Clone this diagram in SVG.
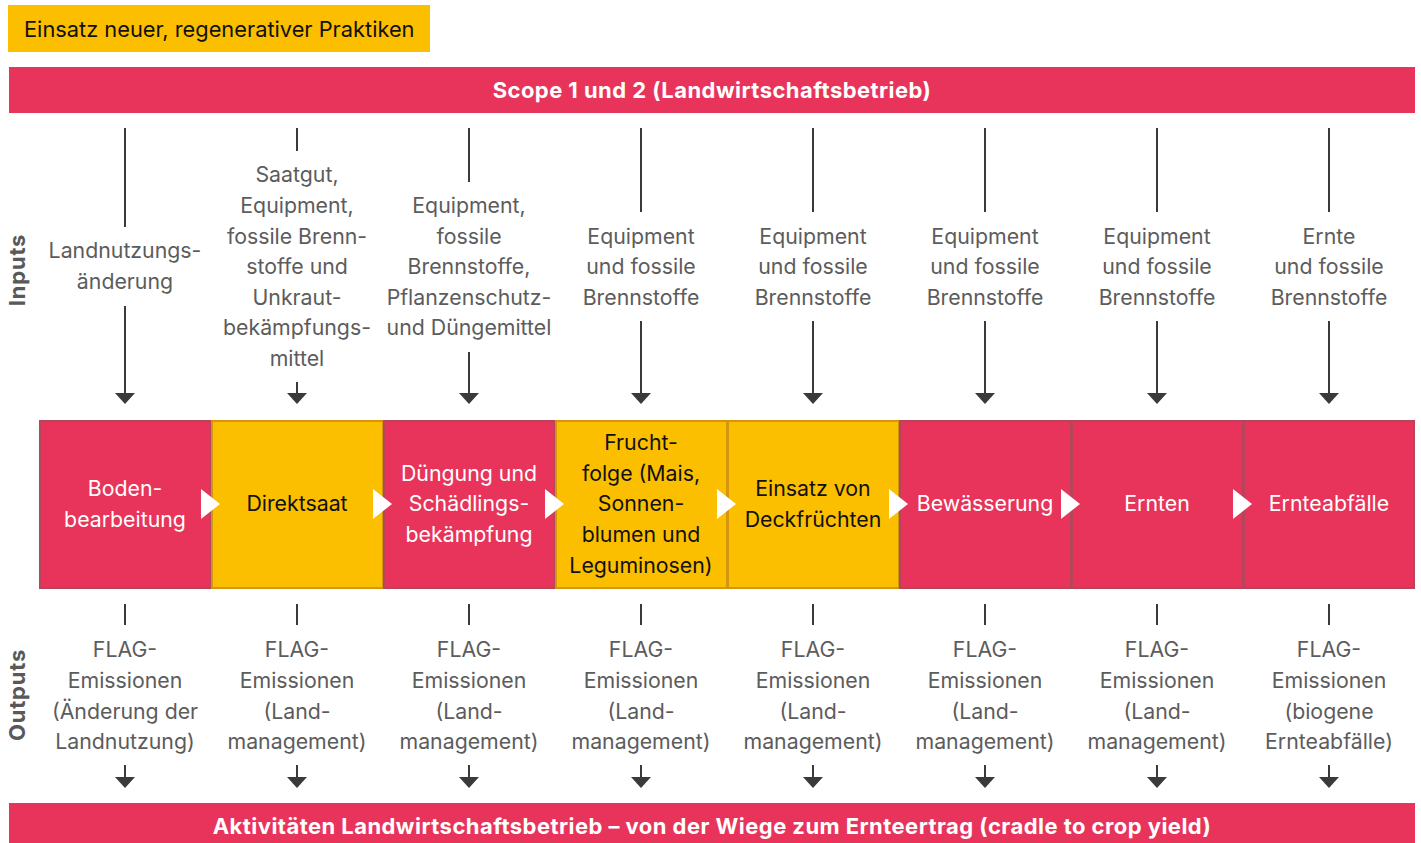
<svg xmlns="http://www.w3.org/2000/svg" width="1421" height="843" viewBox="0 0 1421 843">
<style>
.bg{fill:#ffffff}
.red{fill:#E8345A}
.yel{fill:#FBBF00}
.bred{fill:#E8345A;stroke:#B5455A;stroke-width:2}
.byel{fill:#FBBF00;stroke:#D4950F;stroke-width:2}
.t{font-family:Inter,"Liberation Sans",Arial,sans-serif;font-size:21.3px;text-anchor:middle}
.g{fill:#5c5c5c}
.w{fill:#ffffff}
.k{fill:#111111}
.hb{font-family:Inter,"Liberation Sans",Arial,sans-serif;font-size:22px;font-weight:bold;fill:#ffffff;text-anchor:middle;letter-spacing:0.45px}
.side{font-family:Inter,"Liberation Sans",Arial,sans-serif;font-size:22px;font-weight:bold;fill:#595959;text-anchor:middle;letter-spacing:0.8px}
.ln{stroke:#3a3a3a;stroke-width:2;fill:none}
.arr{stroke:#3a3a3a;stroke-width:2;fill:none;marker-end:url(#ah)}
.tri{fill:#ffffff}
</style>
<defs>
<marker id="ah" markerUnits="userSpaceOnUse" markerWidth="12" markerHeight="22" viewBox="0 0 12 22" refX="0" refY="11" orient="auto">
<path d="M0,1 L11,11 L0,21 Z" fill="#3a3a3a"/>
</marker>
</defs>
<rect class="bg" x="0" y="0" width="1421" height="843"/>

<g id="title-regen">
<rect class="yel" x="8" y="5" width="422" height="47"/>
<text x="24" y="36.5" style="font-family:Inter,'Liberation Sans',Arial,sans-serif;font-size:21.8px;fill:#111">Einsatz neuer, regenerativer Praktiken</text>
</g>

<g id="scope-header">
<rect class="red" x="9" y="67" width="1406" height="46"/>
<text class="hb" x="712" y="98">Scope 1 und 2 (Landwirtschaftsbetrieb)</text>
</g>

<g id="label-inputs"><text class="side" transform="translate(25,270) rotate(-90)">Inputs</text></g>
<g id="label-outputs"><text class="side" transform="translate(25,695) rotate(-90)">Outputs</text></g>

<g id="input-texts">
<text class="t g" x="125" y="258">Landnutzungs-</text>
<text class="t g" x="125" y="289">änderung</text>
<text class="t g" x="297" y="182">Saatgut,</text>
<text class="t g" x="297" y="213">Equipment,</text>
<text class="t g" x="297" y="244">fossile Brenn-</text>
<text class="t g" x="297" y="274">stoffe und</text>
<text class="t g" x="297" y="305">Unkraut-</text>
<text class="t g" x="297" y="335">bekämpfungs-</text>
<text class="t g" x="297" y="366">mittel</text>
<text class="t g" x="469" y="213">Equipment,</text>
<text class="t g" x="469" y="244">fossile</text>
<text class="t g" x="469" y="274">Brennstoffe,</text>
<text class="t g" x="469" y="305">Pflanzenschutz-</text>
<text class="t g" x="469" y="335">und Düngemittel</text>
<text class="t g" x="641" y="244">Equipment</text>
<text class="t g" x="641" y="274">und fossile</text>
<text class="t g" x="641" y="305">Brennstoffe</text>
<text class="t g" x="813" y="244">Equipment</text>
<text class="t g" x="813" y="274">und fossile</text>
<text class="t g" x="813" y="305">Brennstoffe</text>
<text class="t g" x="985" y="244">Equipment</text>
<text class="t g" x="985" y="274">und fossile</text>
<text class="t g" x="985" y="305">Brennstoffe</text>
<text class="t g" x="1157" y="244">Equipment</text>
<text class="t g" x="1157" y="274">und fossile</text>
<text class="t g" x="1157" y="305">Brennstoffe</text>
<text class="t g" x="1329" y="244">Ernte</text>
<text class="t g" x="1329" y="274">und fossile</text>
<text class="t g" x="1329" y="305">Brennstoffe</text>
</g>

<g id="node-bodenbearbeitung">
<rect class="bred" x="40" y="421" width="171" height="167"/>
<text class="t w" x="125" y="496">Boden-</text>
<text class="t w" x="125" y="527">bearbeitung</text>
</g>
<g id="node-direktsaat">
<rect class="byel" x="212" y="421" width="171" height="167"/>
<text class="t k" x="297" y="511">Direktsaat</text>
</g>
<g id="node-duengung">
<rect class="bred" x="384" y="421" width="171" height="167"/>
<text class="t w" x="469" y="481">Düngung und</text>
<text class="t w" x="469" y="511">Schädlings-</text>
<text class="t w" x="469" y="542">bekämpfung</text>
</g>
<g id="node-fruchtfolge">
<rect class="byel" x="556" y="421" width="171" height="167"/>
<text class="t k" x="641" y="450">Frucht-</text>
<text class="t k" x="641" y="481">folge (Mais,</text>
<text class="t k" x="641" y="511">Sonnen-</text>
<text class="t k" x="641" y="542">blumen und</text>
<text class="t k" x="641" y="573">Leguminosen)</text>
</g>
<g id="node-deckfruechte">
<rect class="byel" x="728" y="421" width="171" height="167"/>
<text class="t k" x="813" y="496">Einsatz von</text>
<text class="t k" x="813" y="527">Deckfrüchten</text>
</g>
<g id="node-bewaesserung">
<rect class="bred" x="900" y="421" width="171" height="167"/>
<text class="t w" x="985" y="511">Bewässerung</text>
</g>
<g id="node-ernten">
<rect class="bred" x="1072" y="421" width="171" height="167"/>
<text class="t w" x="1157" y="511">Ernten</text>
</g>
<g id="node-ernteabfaelle">
<rect class="bred" x="1244" y="421" width="170" height="167"/>
<text class="t w" x="1329" y="511">Ernteabfälle</text>
</g>

<g id="output-texts">
<text class="t g" x="125" y="657">FLAG-</text>
<text class="t g" x="125" y="688">Emissionen</text>
<text class="t g" x="125" y="719">(Änderung der</text>
<text class="t g" x="125" y="749">Landnutzung)</text>
<text class="t g" x="297" y="657">FLAG-</text>
<text class="t g" x="297" y="688">Emissionen</text>
<text class="t g" x="297" y="719">(Land-</text>
<text class="t g" x="297" y="749">management)</text>
<text class="t g" x="469" y="657">FLAG-</text>
<text class="t g" x="469" y="688">Emissionen</text>
<text class="t g" x="469" y="719">(Land-</text>
<text class="t g" x="469" y="749">management)</text>
<text class="t g" x="641" y="657">FLAG-</text>
<text class="t g" x="641" y="688">Emissionen</text>
<text class="t g" x="641" y="719">(Land-</text>
<text class="t g" x="641" y="749">management)</text>
<text class="t g" x="813" y="657">FLAG-</text>
<text class="t g" x="813" y="688">Emissionen</text>
<text class="t g" x="813" y="719">(Land-</text>
<text class="t g" x="813" y="749">management)</text>
<text class="t g" x="985" y="657">FLAG-</text>
<text class="t g" x="985" y="688">Emissionen</text>
<text class="t g" x="985" y="719">(Land-</text>
<text class="t g" x="985" y="749">management)</text>
<text class="t g" x="1157" y="657">FLAG-</text>
<text class="t g" x="1157" y="688">Emissionen</text>
<text class="t g" x="1157" y="719">(Land-</text>
<text class="t g" x="1157" y="749">management)</text>
<text class="t g" x="1329" y="657">FLAG-</text>
<text class="t g" x="1329" y="688">Emissionen</text>
<text class="t g" x="1329" y="719">(biogene</text>
<text class="t g" x="1329" y="749">Ernteabfälle)</text>
</g>

<g id="connectors">
<line class="ln" x1="125" y1="128" x2="125" y2="227"/>
<line class="arr" x1="125" y1="306" x2="125" y2="393"/>
<line class="ln" x1="297" y1="128" x2="297" y2="151"/>
<line class="arr" x1="297" y1="382" x2="297" y2="393"/>
<line class="ln" x1="469" y1="128" x2="469" y2="182"/>
<line class="arr" x1="469" y1="352" x2="469" y2="393"/>
<line class="ln" x1="641" y1="128" x2="641" y2="212"/>
<line class="arr" x1="641" y1="321" x2="641" y2="393"/>
<line class="ln" x1="813" y1="128" x2="813" y2="212"/>
<line class="arr" x1="813" y1="321" x2="813" y2="393"/>
<line class="ln" x1="985" y1="128" x2="985" y2="212"/>
<line class="arr" x1="985" y1="321" x2="985" y2="393"/>
<line class="ln" x1="1157" y1="128" x2="1157" y2="212"/>
<line class="arr" x1="1157" y1="321" x2="1157" y2="393"/>
<line class="ln" x1="1329" y1="128" x2="1329" y2="212"/>
<line class="arr" x1="1329" y1="321" x2="1329" y2="393"/>
<line class="ln" x1="125" y1="604" x2="125" y2="625"/>
<line class="arr" x1="125" y1="765" x2="125" y2="777"/>
<line class="ln" x1="297" y1="604" x2="297" y2="625"/>
<line class="arr" x1="297" y1="765" x2="297" y2="777"/>
<line class="ln" x1="469" y1="604" x2="469" y2="625"/>
<line class="arr" x1="469" y1="765" x2="469" y2="777"/>
<line class="ln" x1="641" y1="604" x2="641" y2="625"/>
<line class="arr" x1="641" y1="765" x2="641" y2="777"/>
<line class="ln" x1="813" y1="604" x2="813" y2="625"/>
<line class="arr" x1="813" y1="765" x2="813" y2="777"/>
<line class="ln" x1="985" y1="604" x2="985" y2="625"/>
<line class="arr" x1="985" y1="765" x2="985" y2="777"/>
<line class="ln" x1="1157" y1="604" x2="1157" y2="625"/>
<line class="arr" x1="1157" y1="765" x2="1157" y2="777"/>
<line class="ln" x1="1329" y1="604" x2="1329" y2="625"/>
<line class="arr" x1="1329" y1="765" x2="1329" y2="777"/>
<polygon class="tri" points="201,489 201,519 220,504"/>
<polygon class="tri" points="373,489 373,519 392,504"/>
<polygon class="tri" points="545,489 545,519 564,504"/>
<polygon class="tri" points="717,489 717,519 736,504"/>
<polygon class="tri" points="889,489 889,519 908,504"/>
<polygon class="tri" points="1061,489 1061,519 1080,504"/>
<polygon class="tri" points="1233,489 1233,519 1252,504"/>
</g>

<g id="footer-bar">
<rect class="red" x="9" y="803" width="1406" height="40"/>
<text class="hb" x="712" y="834">Aktivitäten Landwirtschaftsbetrieb – von der Wiege zum Ernteertrag (cradle to crop yield)</text>
</g>
</svg>
